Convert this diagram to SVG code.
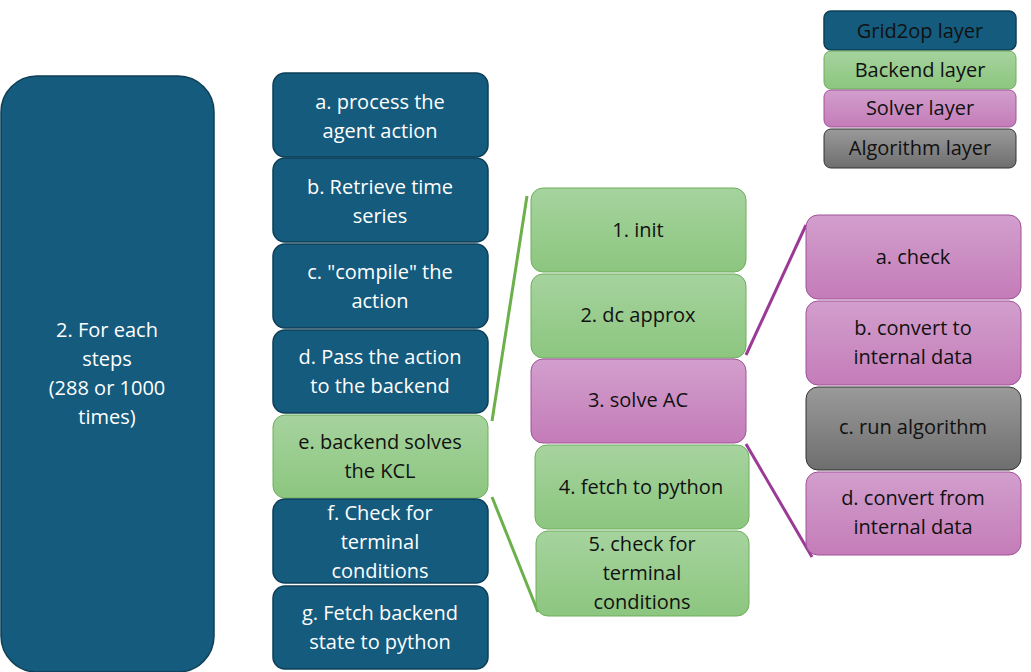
<svg xmlns="http://www.w3.org/2000/svg" width="1031" height="672" viewBox="0 0 1031 672">
<defs>
<linearGradient id="gG" x1="0" y1="0" x2="0" y2="1"><stop offset="0" stop-color="#a6d39e"/><stop offset="1" stop-color="#8cc67f"/></linearGradient>
<linearGradient id="gP" x1="0" y1="0" x2="0" y2="1"><stop offset="0" stop-color="#d29fcd"/><stop offset="1" stop-color="#c47cb8"/></linearGradient>
<linearGradient id="gA" x1="0" y1="0" x2="0" y2="1"><stop offset="0" stop-color="#9a9a9a"/><stop offset="1" stop-color="#6e6e6e"/></linearGradient>
</defs>
<style>
.b{fill:#145b7d;stroke:#0e3f57;stroke-width:1.5}
.g{fill:url(#gG);stroke:#6fae5f;stroke-width:1}
.p{fill:url(#gP);stroke:#a0529a;stroke-width:1}
.a{fill:url(#gA);stroke:#333;stroke-width:1}
text{font-family:"Open Sans","Liberation Sans",sans-serif;font-size:20px;text-anchor:middle}
.w{fill:#fff}.k{fill:#111}
.lg{stroke:#6bb04a;stroke-width:3}.lp{stroke:#9b3a96;stroke-width:3}
</style>
<g id="connectors">
<line class="lg" x1="492" y1="421" x2="527" y2="196"/>
<line class="lg" x1="492" y1="497" x2="538" y2="612"/>
<line class="lp" x1="746" y1="355" x2="806" y2="225"/>
<line class="lp" x1="746" y1="444" x2="812" y2="557"/>
</g>
<g id="main"><rect class="b" x="1" y="76" width="213" height="596" rx="36"/><text class="w" x="107" y="337">2. For each</text><text class="w" x="107" y="366">steps</text><text class="w" x="107" y="395">(288 or 1000</text><text class="w" x="107" y="424">times)</text></g>
<g id="sa"><rect class="b" x="273" y="73" width="215" height="84" rx="12"/><text class="w" x="380" y="109">a. process the</text><text class="w" x="380" y="138">agent action</text></g>
<g id="sb"><rect class="b" x="273" y="158" width="215" height="84" rx="12"/><text class="w" x="380" y="194">b. Retrieve time</text><text class="w" x="380" y="223">series</text></g>
<g id="sc"><rect class="b" x="273" y="244" width="215" height="84" rx="12"/><text class="w" x="380" y="279">c. "compile" the</text><text class="w" x="380" y="308">action</text></g>
<g id="sd"><rect class="b" x="273" y="330" width="215" height="83" rx="12"/><text class="w" x="380" y="364">d. Pass the action</text><text class="w" x="380" y="393">to the backend</text></g>
<g id="se"><rect class="g" x="273" y="415" width="215" height="83" rx="12"/><text class="k" x="380" y="449">e. backend solves</text><text class="k" x="380" y="478">the KCL</text></g>
<g id="sf"><rect class="b" x="273" y="499" width="215" height="84" rx="12"/><text class="w" x="380" y="520">f. Check for</text><text class="w" x="380" y="549">terminal</text><text class="w" x="380" y="578">conditions</text></g>
<g id="sg"><rect class="b" x="273" y="586" width="215" height="83" rx="12"/><text class="w" x="380" y="620">g. Fetch backend</text><text class="w" x="380" y="649">state to python</text></g>
<g id="k1"><rect class="g" x="531" y="188" width="215" height="84" rx="12"/><text class="k" x="638" y="237">1. init</text></g>
<g id="k2"><rect class="g" x="531" y="274" width="215" height="84" rx="12"/><text class="k" x="638" y="322">2. dc approx</text></g>
<g id="k3"><rect class="p" x="531" y="359" width="215" height="84" rx="12"/><text class="k" x="638" y="407">3. solve AC</text></g>
<g id="k4"><rect class="g" x="535" y="445" width="214" height="84" rx="12"/><text class="k" x="641" y="494">4. fetch to python</text></g>
<g id="k5"><rect class="g" x="536" y="531" width="213" height="85" rx="12"/><text class="k" x="642" y="551">5. check for</text><text class="k" x="642" y="580">terminal</text><text class="k" x="642" y="609">conditions</text></g>
<g id="s1"><rect class="p" x="806" y="215" width="215" height="84" rx="12"/><text class="k" x="913" y="264">a. check</text></g>
<g id="s2"><rect class="p" x="806" y="301" width="215" height="84" rx="12"/><text class="k" x="913" y="335">b. convert to</text><text class="k" x="913" y="364">internal data</text></g>
<g id="s3"><rect class="a" x="806" y="387" width="215" height="83" rx="12"/><text class="k" x="913" y="434">c. run algorithm</text></g>
<g id="s4"><rect class="p" x="806" y="472" width="215" height="83" rx="12"/><text class="k" x="913" y="505">d. convert from</text><text class="k" x="913" y="534">internal data</text></g>
<g id="legend">
<rect class="b" x="824" y="11" width="192" height="39" rx="7"/><text class="k" x="920" y="38">Grid2op layer</text>
<rect class="g" x="824" y="51" width="192" height="38" rx="7"/><text class="k" x="920" y="77">Backend layer</text>
<rect class="p" x="824" y="90" width="192" height="37" rx="7"/><text class="k" x="920" y="115">Solver layer</text>
<rect class="a" x="824" y="129" width="192" height="39" rx="7"/><text class="k" x="920" y="155">Algorithm layer</text>
</g>
</svg>
